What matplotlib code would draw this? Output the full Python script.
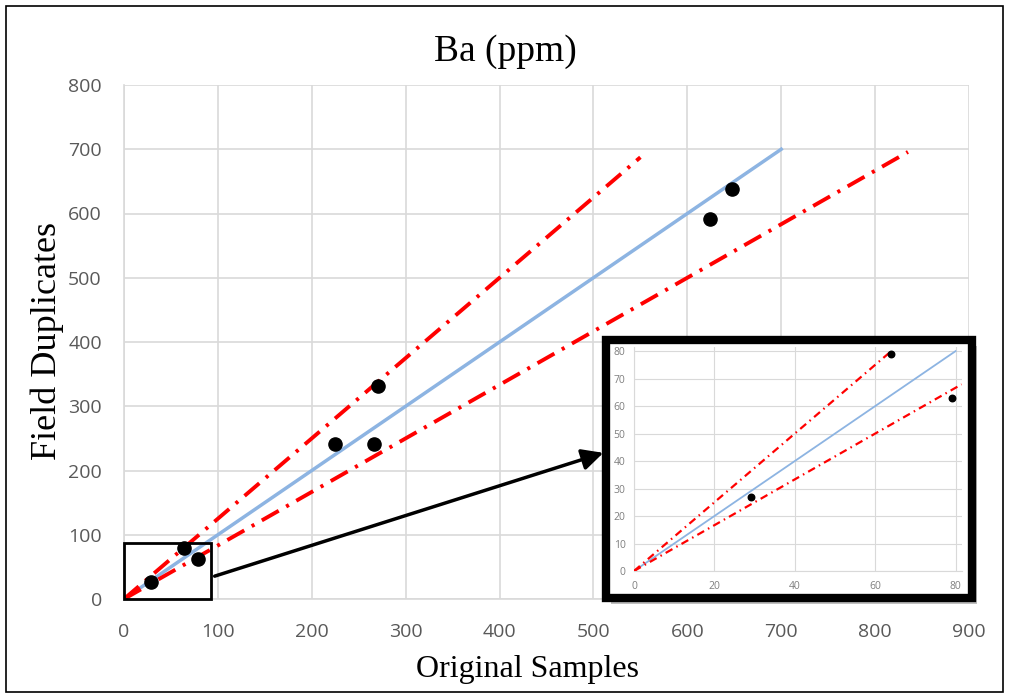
import matplotlib
matplotlib.use("Agg")
import matplotlib.pyplot as plt
from matplotlib.patches import Rectangle, FancyArrowPatch
import numpy as np

# Data
orig = [29, 64, 79, 225, 266, 271, 624, 648]
dup = [27, 79, 63, 242, 242, 331, 591, 638]
line_1to1_x = [0, 700]
upper_x = [0, 550]
lower_x = [0, 835]
upper_factor = 1.25
lower_factor = 1 / 1.2
main_xticks = [0, 100, 200, 300, 400, 500, 600, 700, 800, 900]
main_yticks = [0, 100, 200, 300, 400, 500, 600, 700, 800]
inset_ticks_x = [0, 20, 40, 60, 80]
inset_ticks_y = [0, 10, 20, 30, 40, 50, 60, 70, 80]
inset_line_x = [0, 80]
inset_upper_x = [0, 64]
inset_lower_x = [0, 81.5]

W, H = 1009, 698
fig = plt.figure(figsize=(W / 100, H / 100), dpi=100)
fig.patch.set_facecolor("white")

serif = ["Liberation Serif", "DejaVu Serif"]
sans = ["Open Sans", "DejaVu Sans"]
tick_col = "#595959"
grid_col = "#d9d9d9"
blue = "#8db4e2"
red = "#ff0000"
dash = (0, (5, 2.2, 0.8, 2.2))

def fx(px):
    return px / W

def fy(py):
    return 1 - py / H

# outer border
fig.add_artist(Rectangle((fx(6), fy(692)), 997 / W, 686 / H, transform=fig.transFigure,
                         fill=False, edgecolor="black", linewidth=1.2))

ax = fig.add_axes([fx(124), fy(599), (969 - 124) / W, (599 - 85) / H])
ax.set_xlim(0, 900)
ax.set_ylim(0, 800)
ax.set_xticks(main_xticks)
ax.set_yticks(main_yticks)
ax.grid(True, color=grid_col, linewidth=1.2)
ax.set_axisbelow(True)
for s in ["top", "right"]:
    ax.spines[s].set_visible(False)
for s in ["left", "bottom"]:
    ax.spines[s].set_color(grid_col)
    ax.spines[s].set_linewidth(1.2)
ax.tick_params(axis="y", length=0, pad=16, labelsize=14, labelcolor=tick_col)
ax.tick_params(axis="x", length=0, pad=17, labelsize=14, labelcolor=tick_col)
for lab in ax.get_xticklabels() + ax.get_yticklabels():
    lab.set_family(sans)

ax.plot(line_1to1_x, line_1to1_x, color=blue, linewidth=2.5, zorder=2)
ax.plot(upper_x, [v * upper_factor for v in upper_x], color=red, linewidth=2.8,
        linestyle=dash, zorder=3)
ax.plot(lower_x, [v * lower_factor for v in lower_x], color=red, linewidth=2.8,
        linestyle=dash, zorder=3)
ax.scatter(orig, dup, s=90, color="black", zorder=4)

fig.text(fx(505), fy(52), "Ba (ppm)", fontsize=27, family=serif, ha="center", va="center")
fig.text(fx(528), fy(670), "Original Samples", fontsize=23, family=serif, ha="center",
         va="center")
fig.text(fx(47), fy(341), "Field Duplicates", fontsize=26, family=serif, ha="center",
         va="center", rotation=90)

# zoom rectangle in main plot
ax.add_patch(Rectangle((0, 0), 93, 87, fill=False, edgecolor="black", linewidth=2, zorder=5,
                       clip_on=False))

# arrow
arr = FancyArrowPatch((fx(212), fy(577)), (fx(606), fy(452)), transform=fig.transFigure,
                      arrowstyle="-|>,head_length=8,head_width=4", color="black",
                      linewidth=2.5, mutation_scale=1.6)
fig.add_artist(arr)

# inset frame with shadow
fig.add_artist(Rectangle((fx(611), fy(604)), 366 / W, 258 / H, transform=fig.transFigure,
                         facecolor="#bfbfbf", edgecolor="none", zorder=8))
fig.add_artist(Rectangle((fx(606), fy(598)), 366 / W, 258 / H, transform=fig.transFigure,
                         facecolor="white", edgecolor="black", linewidth=6, zorder=9))

iax = fig.add_axes([fx(634), fy(571), (962 - 634) / W, (571 - 347) / H], zorder=10)
iax.set_xlim(0, 81.6)
iax.set_ylim(0, 81.5)
iax.set_xticks(inset_ticks_x)
iax.set_yticks(inset_ticks_y)
iax.grid(True, color=grid_col, linewidth=0.8)
iax.set_axisbelow(True)
for s in ["top", "right"]:
    iax.spines[s].set_visible(False)
for s in ["left", "bottom"]:
    iax.spines[s].set_color(grid_col)
    iax.spines[s].set_linewidth(0.8)
iax.tick_params(axis="y", length=0, pad=6, labelsize=7.5, labelcolor="#7f7f7f")
iax.tick_params(axis="x", length=0, pad=7, labelsize=7.5, labelcolor="#7f7f7f")
for lab in iax.get_xticklabels() + iax.get_yticklabels():
    lab.set_family(sans)
iax.plot(inset_line_x, inset_line_x, color=blue, linewidth=1.3, zorder=2)
iax.plot(inset_upper_x, [v * upper_factor for v in inset_upper_x], color=red, linewidth=1.6,
         linestyle=(0, (3.5, 2, 0.7, 2)), zorder=3)
iax.plot(inset_lower_x, [v * lower_factor for v in inset_lower_x], color=red, linewidth=1.6,
         linestyle=(0, (3.5, 2, 0.7, 2)), zorder=3)
iax.scatter(orig[:3], dup[:3], s=22, color="black", zorder=4)

fig.savefig("out.png", dpi=100)
